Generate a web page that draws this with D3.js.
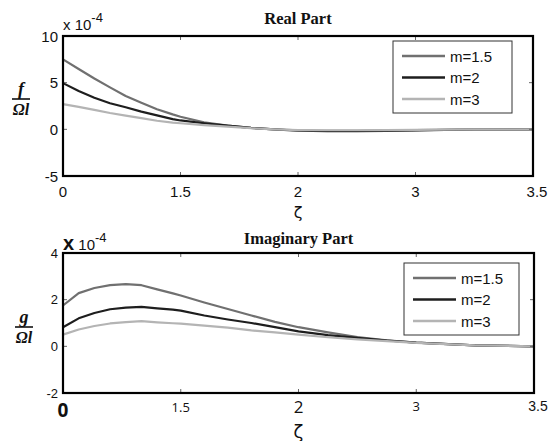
<!DOCTYPE html>
<html>
<head>
<meta charset="utf-8">
<script src="https://cdn.jsdelivr.net/npm/d3@7"></script>
<style>
  html, body { margin: 0; padding: 0; background: #fff; }
  svg { display: block; }
</style>
</head>
<body>
<svg id="chart" width="549" height="441"></svg>
<script>
// ζ sample positions shared by all curves
const zeta = [0, 0.2, 0.4, 0.6, 0.8, 1.0, 1.2, 1.4, 1.5, 1.6, 1.7, 1.8, 1.9, 2.0, 2.25, 2.5, 2.75, 3.0, 3.25, 3.5];

// Real part f/(Ωl), ×1e-4
const realM15 = [7.5, 6.47, 5.45, 4.5, 3.57, 2.86, 2.15, 1.6, 1.35, 0.75, 0.4, 0.15, 0.0, -0.1, -0.15, -0.15, -0.12, -0.08, 0.0, 0.0];
const realM2  = [4.95, 4.1, 3.38, 2.8, 2.36, 1.9, 1.5, 1.1, 0.95, 0.65, 0.4, 0.15, 0.0, -0.15, -0.2, -0.2, -0.18, -0.12, -0.02, 0.0];
const realM3  = [2.7, 2.4, 2.08, 1.75, 1.47, 1.2, 0.92, 0.72, 0.65, 0.45, 0.3, 0.12, 0.0, -0.08, -0.1, -0.1, -0.08, -0.05, 0.0, 0.0];

// Imaginary part g/(Ωl), ×1e-4
const imagM15 = [1.75, 2.28, 2.5, 2.62, 2.67, 2.62, 2.44, 2.27, 2.18, 1.88, 1.6, 1.32, 1.05, 0.82, 0.6, 0.4, 0.26, 0.16, 0.04, 0.0];
const imagM2  = [0.82, 1.2, 1.43, 1.59, 1.66, 1.69, 1.63, 1.57, 1.53, 1.32, 1.15, 1.0, 0.82, 0.64, 0.48, 0.36, 0.25, 0.16, 0.04, 0.0];
const imagM3  = [0.5, 0.72, 0.87, 0.98, 1.04, 1.08, 1.03, 0.99, 0.97, 0.89, 0.8, 0.68, 0.6, 0.5, 0.39, 0.3, 0.22, 0.15, 0.04, 0.0];

const seriesNames = ["m=1.5", "m=2", "m=3"];
const seriesColors = ["#707070", "#1e1e1e", "#b4b4b4"];

// Axis ticks
const xTickValues = [0, 1.5, 2, 3, 3.5];
const xTickLabels = ["0", "1.5", "2", "3", "3.5"];
const realYTicks = [-5, 0, 5, 10];
const imagYTicks = [-2, 0, 2, 4];

const svg = d3.select("#chart");
svg.append("rect").attr("width", 549).attr("height", 441).attr("fill", "#fff");

function panel(cfg) {
  const g = svg.append("g");
  const { left, right, top, bottom } = cfg;
  // evenly spaced tick positions carry the ζ tick values
  const x = d3.scaleLinear()
    .domain(xTickValues)
    .range(xTickValues.map((d, i) => left + i * (right - left) / (xTickValues.length - 1)));
  const y = d3.scaleLinear().domain(cfg.yDomain).range([bottom, top]);

  // curves
  const line = d3.line().x((d, i) => x(zeta[i])).y(d => y(d));
  cfg.series.forEach((vals, k) => {
    g.append("path")
      .datum(vals)
      .attr("d", line)
      .attr("fill", "none")
      .attr("stroke", seriesColors[k])
      .attr("stroke-width", 2.2)
      .attr("stroke-linejoin", "round");
  });

  // inward tick marks on all four sides
  const tl = 4;
  const inner = xTickValues.slice(1, -1);
  inner.forEach(v => {
    g.append("line").attr("x1", x(v)).attr("x2", x(v)).attr("y1", bottom).attr("y2", bottom - tl)
      .attr("stroke", "#666").attr("stroke-width", 1);
    g.append("line").attr("x1", x(v)).attr("x2", x(v)).attr("y1", top).attr("y2", top + tl)
      .attr("stroke", "#666").attr("stroke-width", 1);
  });
  cfg.yTicks.slice(1, -1).forEach(v => {
    g.append("line").attr("x1", left).attr("x2", left + tl).attr("y1", y(v)).attr("y2", y(v))
      .attr("stroke", "#666").attr("stroke-width", 1);
    g.append("line").attr("x1", right).attr("x2", right - tl).attr("y1", y(v)).attr("y2", y(v))
      .attr("stroke", "#666").attr("stroke-width", 1);
  });

  // frame
  g.append("rect")
    .attr("x", left).attr("y", top)
    .attr("width", right - left).attr("height", bottom - top)
    .attr("fill", "none").attr("stroke", "#000").attr("stroke-width", 2.2);

  // y tick labels
  cfg.yTicks.forEach(v => {
    g.append("text")
      .attr("x", left - 5).attr("y", y(v))
      .attr("text-anchor", "end").attr("dominant-baseline", "central")
      .attr("font-family", "Liberation Sans, Arial, sans-serif")
      .attr("font-size", cfg.yTickSize)
      .attr("fill", "#111")
      .text(String(v));
  });

  // x tick labels
  xTickValues.forEach((v, i) => {
    const st = cfg.xLabelStyle(i);
    g.append("text")
      .attr("x", x(v) + (st.dx || 0)).attr("y", cfg.xLabelY + (st.dy || 0))
      .attr("text-anchor", "middle").attr("dominant-baseline", "central")
      .attr("font-family", st.family || "Liberation Sans, Arial, sans-serif")
      .attr("font-size", st.size)
      .attr("font-weight", st.weight || "normal")
      .attr("fill", "#111")
      .text(xTickLabels[i]);
  });

  // ζ axis title
  g.append("text")
    .attr("x", x(2)).attr("y", cfg.zetaY)
    .attr("text-anchor", "middle").attr("dominant-baseline", "central")
    .attr("font-family", "DejaVu Sans, sans-serif")
    .attr("font-size", cfg.zetaSize)
    .attr("fill", "#111")
    .text("ζ");

  // panel title
  g.append("text")
    .attr("x", x(2)).attr("y", cfg.titleY)
    .attr("text-anchor", "middle").attr("dominant-baseline", "central")
    .attr("font-family", "Liberation Serif, Times New Roman, serif")
    .attr("font-weight", "bold").attr("font-size", 16.5)
    .attr("fill", "#111")
    .text(cfg.title);

  // exponent label
  const ex = g.append("text")
    .attr("x", left).attr("y", cfg.expY)
    .attr("font-family", "Liberation Sans, Arial, sans-serif")
    .attr("fill", "#111");
  ex.append("tspan").attr("font-size", cfg.expXSize).attr("font-weight", cfg.expXWeight).text("x");
  ex.append("tspan").attr("font-size", 15).text(" 10");
  ex.append("tspan").attr("font-size", 13).attr("dy", -8).text("-4");

  // y axis label as fraction
  const fx = cfg.fracX;
  g.append("text")
    .attr("x", fx).attr("y", cfg.fracY - 10)
    .attr("text-anchor", "middle").attr("dominant-baseline", "central")
    .attr("font-family", "Liberation Serif, Times New Roman, serif")
    .attr("font-style", "italic").attr("font-weight", "bold").attr("font-size", 18)
    .attr("fill", "#111")
    .text(cfg.numer);
  g.append("line")
    .attr("x1", fx - 9).attr("x2", fx + 9).attr("y1", cfg.fracY).attr("y2", cfg.fracY)
    .attr("stroke", "#111").attr("stroke-width", 1.6);
  g.append("text")
    .attr("x", fx).attr("y", cfg.fracY + 10)
    .attr("text-anchor", "middle").attr("dominant-baseline", "central")
    .attr("font-family", "Liberation Serif, Times New Roman, serif")
    .attr("font-style", "italic").attr("font-weight", "bold").attr("font-size", 16)
    .attr("fill", "#111")
    .text("Ωl");

  // legend
  const L = cfg.legend;
  g.append("rect")
    .attr("x", L.x).attr("y", L.y).attr("width", L.w).attr("height", L.h)
    .attr("fill", "#fff").attr("stroke", "#333").attr("stroke-width", 1);
  seriesNames.forEach((name, k) => {
    const ly = L.y + 15 + k * 21.5;
    g.append("line")
      .attr("x1", L.x + 9).attr("x2", L.x + 52).attr("y1", ly).attr("y2", ly)
      .attr("stroke", seriesColors[k]).attr("stroke-width", 2.4);
    g.append("text")
      .attr("x", L.x + 57).attr("y", ly)
      .attr("dominant-baseline", "central")
      .attr("font-family", "Liberation Sans, Arial, sans-serif")
      .attr("font-size", 15).attr("fill", "#111")
      .text(name);
  });
}

panel({
  left: 63, right: 533, top: 36, bottom: 176,
  yDomain: [-5, 10], yTicks: realYTicks, yTickSize: 15,
  series: [realM15, realM2, realM3],
  xLabelY: 191,
  xLabelStyle: i => ({ size: 15, dx: i === 4 ? 4 : 0 }),
  zetaY: 212, zetaSize: 16,
  title: "Real Part", titleY: 18,
  expY: 30, expXSize: 15, expXWeight: "normal",
  numer: "f", fracX: 21, fracY: 99,
  legend: { x: 393, y: 41, w: 119, h: 72 }
});

panel({
  left: 63, right: 534, top: 253, bottom: 393,
  yDomain: [-2, 4], yTicks: imagYTicks, yTickSize: 13,
  series: [imagM15, imagM2, imagM3],
  xLabelY: 407,
  xLabelStyle: i => [
    { size: 19, weight: "bold", dy: 3, family: "Open Sans, sans-serif" },
    { size: 13, family: "Open Sans, sans-serif" },
    { size: 17, dy: -1, family: "Open Sans, sans-serif" },
    { size: 13, dy: -1, family: "Open Sans, sans-serif" },
    { size: 14, dx: 4, dy: -1 }
  ][i],
  zetaY: 431, zetaSize: 18,
  title: "Imaginary Part", titleY: 238,
  expY: 250, expXSize: 20, expXWeight: "bold",
  numer: "g", fracX: 24, fracY: 327,
  legend: { x: 404, y: 263, w: 115, h: 72 }
});
</script>
</body>
</html>
